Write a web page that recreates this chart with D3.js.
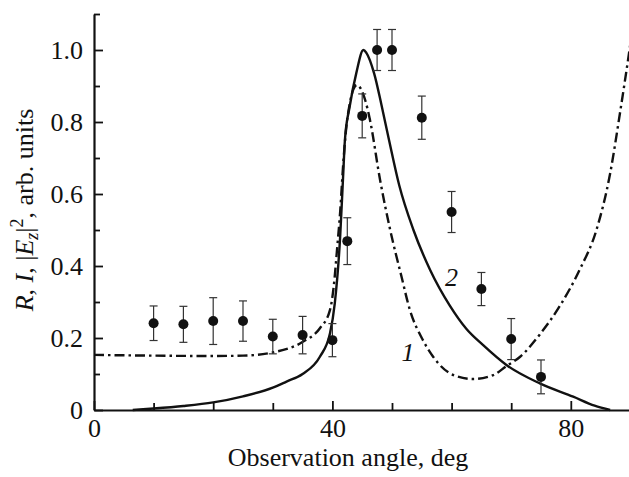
<!DOCTYPE html>
<html>
<head>
<meta charset="utf-8">
<script src="https://cdn.jsdelivr.net/npm/d3@7"></script>
<style>
  body { margin: 0; background: #fff; }
  svg { display: block; font-family: "Liberation Serif", "Times New Roman", serif; }
</style>
</head>
<body>
<svg></svg>
<script>
// measured points with error bars
const angles    = [10, 15, 20, 25, 30, 35, 40, 42.5, 45, 47.5, 50, 55, 60, 65, 70, 75]
const intensity = [0.241, 0.238, 0.247, 0.247, 0.204, 0.208, 0.194, 0.469, 0.817, 1.0, 1.0, 0.812, 0.55, 0.336, 0.197, 0.092]
const errors    = [0.048, 0.05, 0.065, 0.056, 0.048, 0.052, 0.046, 0.065, 0.061, 0.057, 0.057, 0.06, 0.057, 0.046, 0.057, 0.047]

// curve 1 (dash-dot)
const curve1Angle = [0, 10, 20, 25, 30, 35.1, 37.9, 39.6, 40.2, 40.8, 41.3, 41.8, 42.3, 42.9, 43.5, 44.1, 45.5, 46.3, 48.0, 49.7, 51.6, 53.0, 55.0, 56.9, 60.3, 63.6, 67, 69.2, 71.5, 74.8, 78.2, 81.5, 84.3, 86.6, 88.3, 89.6, 90.2]
const curve1Value = [0.153, 0.151, 0.15, 0.151, 0.16, 0.19, 0.227, 0.278, 0.34, 0.45, 0.55, 0.68, 0.78, 0.85, 0.89, 0.903, 0.861, 0.806, 0.639, 0.5, 0.37, 0.278, 0.2, 0.148, 0.097, 0.086, 0.097, 0.122, 0.148, 0.21, 0.29, 0.39, 0.5, 0.657, 0.83, 0.972, 1.04]

// curve 2 (solid)
const curve2Angle = [6.5, 10, 15, 20, 25, 30, 32.3, 35, 37.9, 39.6, 40.4, 41.3, 41.8, 42.1, 42.9, 44.0, 45.2, 45.7, 47.0, 48.2, 49.5, 51.2, 53.6, 56.4, 59.7, 62.5, 65.3, 69.2, 74.8, 80.4, 84, 86.6]
const curve2Value = [0, 0.004, 0.011, 0.021, 0.038, 0.062, 0.079, 0.1, 0.148, 0.213, 0.296, 0.481, 0.65, 0.75, 0.843, 0.935, 1.0, 0.992, 0.935, 0.85, 0.75, 0.625, 0.5, 0.389, 0.29, 0.225, 0.18, 0.125, 0.074, 0.037, 0.012, 0]

const xMajor = [0, 40, 80]
const xMinor = [10, 20, 30, 50, 60, 70]
const yMajor = [0, 0.2, 0.4, 0.6, 0.8, 1.0]
const yMinor = [0.1, 0.3, 0.5, 0.7, 0.9, 1.1]

const curveLabels = [
  {text: '1', a: 52.7, v: 0.161},
  {text: '2', a: 60.0, v: 0.367}
]

const width = 629, height = 477
const svg = d3.select('svg').attr('width', width).attr('height', height)

const margin = {left: 94, top: 14, bottom: 67}

const xScale = d3.scaleLinear().domain([0, 90]).range([margin.left, margin.left + 5.96 * 90])
const yScale = d3.scaleLinear().domain([0, 1.1]).range([height - margin.bottom, margin.top])

const fs = 26

// axes
const xAxisG = svg.append('g')
  .attr('transform', `translate(0,${yScale(0)})`)
  .call(d3.axisBottom(xScale).tickValues(xMajor).tickSize(-9).tickSizeOuter(0).tickPadding(8.5).tickFormat(d3.format('d')))
xAxisG.append('g')
  .call(d3.axisBottom(xScale).tickValues(xMinor).tickSize(-7).tickSizeOuter(0).tickFormat(''))
  .select('.domain').remove()

const yAxisG = svg.append('g')
  .attr('transform', `translate(${xScale(0)},0)`)
  .call(d3.axisLeft(yScale).tickValues(yMajor).tickSize(-9).tickSizeOuter(0).tickPadding(11)
    .tickFormat(d => d === 0 ? '0' : d3.format('.1f')(d)))
yAxisG.append('g')
  .call(d3.axisLeft(yScale).tickValues(yMinor).tickSize(-6).tickSizeOuter(0).tickFormat(''))
  .select('.domain').remove()

svg.selectAll('.domain').attr('stroke', '#111').attr('stroke-width', 2.2)
svg.selectAll('.tick line').attr('stroke', '#111').attr('stroke-width', 1.8)
svg.selectAll('.tick text')
  .attr('font-family', '"Liberation Serif", "Times New Roman", serif')
  .attr('font-size', fs).attr('fill', '#111')

// curves
const line = (xs, ys) => d3.line()
  .x((d, i) => xScale(xs[i]))
  .y((d, i) => yScale(ys[i]))
  .curve(d3.curveMonotoneX)(xs)

svg.append('path')
  .attr('d', line(curve1Angle, curve1Value))
  .attr('fill', 'none').attr('stroke', '#111').attr('stroke-width', 2.4)
  .attr('stroke-dasharray', '10,4,2.5,4')

svg.append('path')
  .attr('d', line(curve2Angle, curve2Value))
  .attr('fill', 'none').attr('stroke', '#111').attr('stroke-width', 2.4)

// error bars + points
const pts = angles.map((a, i) => ({a, v: intensity[i], e: errors[i]}))
const eb = svg.append('g').attr('stroke', '#333').attr('stroke-width', 1.2)
pts.forEach(d => {
  const x = xScale(d.a), y0 = yScale(d.v - d.e), y1 = yScale(d.v + d.e)
  eb.append('line').attr('x1', x).attr('x2', x).attr('y1', y0).attr('y2', y1)
  eb.append('line').attr('x1', x - 4).attr('x2', x + 4).attr('y1', y0).attr('y2', y0)
  eb.append('line').attr('x1', x - 4).attr('x2', x + 4).attr('y1', y1).attr('y2', y1)
})
svg.append('g').selectAll('circle')
  .data(pts)
  .enter().append('circle')
    .attr('cx', d => xScale(d.a))
    .attr('cy', d => yScale(d.v))
    .attr('r', 5)
    .attr('fill', '#111')

// curve numbers
svg.selectAll('.clabel')
  .data(curveLabels)
  .enter().append('text')
    .attr('x', d => xScale(d.a))
    .attr('y', d => yScale(d.v))
    .attr('dominant-baseline', 'central')
    .attr('text-anchor', 'middle')
    .attr('font-style', 'italic')
    .attr('font-size', fs)
    .attr('fill', '#111')
    .text(d => d.text)

// axis titles
svg.append('text')
  .attr('x', 348).attr('y', 466)
  .attr('text-anchor', 'middle')
  .attr('font-size', fs).attr('fill', '#111')
  .text('Observation angle, deg')

const yl = svg.append('text')
  .attr('transform', 'translate(33,210) rotate(-90)')
  .attr('text-anchor', 'middle')
  .attr('font-size', fs).attr('fill', '#111')
yl.append('tspan').attr('font-style', 'italic').text('R')
yl.append('tspan').text(', ')
yl.append('tspan').attr('font-style', 'italic').text('I')
yl.append('tspan').text(', |')
yl.append('tspan').attr('font-style', 'italic').text('E')
yl.append('tspan').attr('font-style', 'italic').attr('font-size', 18).attr('dy', 5).text('z')
yl.append('tspan').attr('dy', -5).text('|')
yl.append('tspan').attr('font-size', 18).attr('dy', -10).text('2')
yl.append('tspan').attr('dy', 10).text(', arb. units')
</script>
</body>
</html>
